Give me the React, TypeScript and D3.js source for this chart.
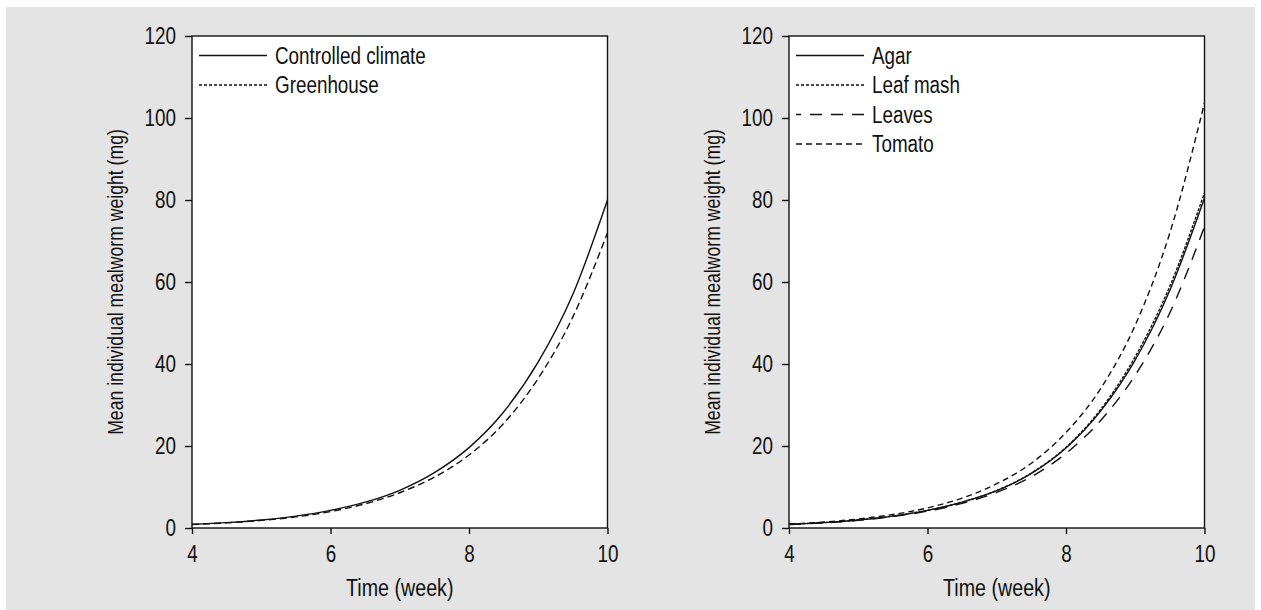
import { select, scaleLinear, line, curveMonotoneX, axisLeft, axisBottom } from "d3";
import React, { useEffect, useRef } from "react";

const weeks = [4, 4.5, 5, 5.5, 6, 6.5, 7, 7.5, 8, 8.5, 9, 9.5, 10];

// left panel
const controlledClimate = [0.9, 1.3, 1.95, 2.9, 4.3, 6.3, 9.2, 13.5, 19.6, 28.3, 40.5, 57.0, 80.0];
const greenhouse = [0.85, 1.25, 1.85, 2.7, 4.0, 5.9, 8.6, 12.4, 17.8, 25.5, 36.5, 51.5, 72.0];

// right panel
const agar = [0.9, 1.3, 1.95, 2.9, 4.3, 6.3, 9.1, 13.3, 19.5, 28.5, 41.0, 58.0, 80.5];
const leafMash = [0.9, 1.3, 1.95, 2.9, 4.3, 6.3, 9.15, 13.4, 19.7, 28.9, 41.8, 59.0, 81.8];
const leaves = [0.85, 1.25, 1.85, 2.8, 4.1, 6.0, 8.7, 12.5, 18.2, 26.2, 37.3, 52.5, 73.5];
const tomato = [0.95, 1.45, 2.2, 3.3, 4.9, 7.3, 10.8, 15.8, 23.3, 34.0, 49.5, 72.0, 103.7];

const xTicks = [4, 6, 8, 10];
const yTicks = [0, 20, 40, 60, 80, 100, 120];

const xTitle = "Time (week)";
const yTitle = "Mean individual mealworm weight (mg)";

const FONT = "'Liberation Sans', Arial, sans-serif";
const NARROW = 0.82; // squeeze Liberation Sans into an Arial Narrow look

const panels = [
  {
    left: 192,
    series: [
      { name: "Controlled climate", values: controlledClimate, dash: null, legendDash: null },
      { name: "Greenhouse", values: greenhouse, dash: "7,4", legendDash: "3,2" },
    ],
  },
  {
    left: 789,
    series: [
      { name: "Agar", values: agar, dash: null, legendDash: null },
      { name: "Leaf mash", values: leafMash, dash: "3,1.5", legendDash: "3,2" },
      { name: "Leaves", values: leaves, dash: "12,9", legendDash: "12,9" },
      { name: "Tomato", values: tomato, dash: "6,4", legendDash: "6,4" },
    ],
  },
];

const App = () => {
  const svgRef = useRef(null);

  useEffect(() => {
    const svg = select(svgRef.current);
    svg.selectAll("*").remove();

    svg
      .append("rect")
      .attr("x", 6)
      .attr("y", 7)
      .attr("width", 1249)
      .attr("height", 603)
      .attr("fill", "#e3e4e3");

    const top = 36;
    const bottom = 528;
    const width = 415.5;

    const yScale = scaleLinear().domain([0, 120]).range([bottom, top]);

    const label = (g, x, y, txt, size = 23, rotate = 0, anchor = "start") =>
      g
        .append("text")
        .attr("transform", `translate(${x},${y}) rotate(${rotate}) scale(${NARROW},1)`)
        .attr("text-anchor", anchor)
        .attr("dy", "0.35em")
        .attr("font-family", FONT)
        .attr("font-size", size)
        .attr("fill", "#111")
        .text(txt);

    panels.forEach((panel) => {
      const xScale = scaleLinear()
        .domain([4, 10])
        .range([panel.left, panel.left + width]);
      const g = svg.append("g");

      g.append("rect")
        .attr("x", panel.left)
        .attr("y", top)
        .attr("width", width)
        .attr("height", bottom - top)
        .attr("fill", "#fff")
        .attr("stroke", "#111")
        .attr("stroke-width", 1.4);

      const yAxis = axisLeft(yScale).tickValues(yTicks).tickSize(7).tickPadding(9).tickSizeOuter(0);
      const ya = g.append("g").attr("transform", `translate(${panel.left},0)`).call(yAxis);
      ya.selectAll("text").attr("x", -16 / NARROW);

      const xAxis = axisBottom(xScale)
        .tickValues(xTicks)
        .tickFormat((d) => String(d))
        .tickSize(6)
        .tickPadding(12)
        .tickSizeOuter(0);
      const xa = g.append("g").attr("transform", `translate(0,${bottom})`).call(xAxis);

      [ya, xa].forEach((a) => {
        a.select(".domain").remove();
        a.attr("font-family", FONT).attr("font-size", 23);
        a.selectAll("line").attr("stroke", "#111").attr("stroke-width", 1.4);
        a.selectAll("text").attr("fill", "#111").attr("transform", `scale(${NARROW},1)`);
      });

      label(g, panel.left + width / 2, 588, xTitle, 24, 0, "middle");
      label(g, panel.left - 77, 282, yTitle, 21.5, -90, "middle");

      const path = line()
        .x((d) => xScale(d[0]))
        .y((d) => yScale(d[1]))
        .curve(curveMonotoneX);

      panel.series.forEach((s, i) => {
        g.append("path")
          .attr("d", path(weeks.map((w, j) => [w, s.values[j]])))
          .attr("fill", "none")
          .attr("stroke", "#111")
          .attr("stroke-width", 1.4)
          .attr("stroke-dasharray", s.dash);

        const ly = 55.5 + i * 29.5;
        g.append("line")
          .attr("x1", panel.left + 7)
          .attr("x2", panel.left + 75)
          .attr("y1", ly)
          .attr("y2", ly)
          .attr("stroke", "#111")
          .attr("stroke-width", 1.4)
          .attr("stroke-dasharray", s.legendDash)
          .attr("stroke-dashoffset", s.name === "Leaves" ? 7 : 0);

        label(g, panel.left + 83, ly, s.name);
      });
    });
  }, []);

  return (
    <div style={{ position: "absolute", left: 0, top: 0 }}>
      <svg ref={svgRef} width={1261} height={610} style={{ display: "block" }} />
    </div>
  );
};

export default App;
